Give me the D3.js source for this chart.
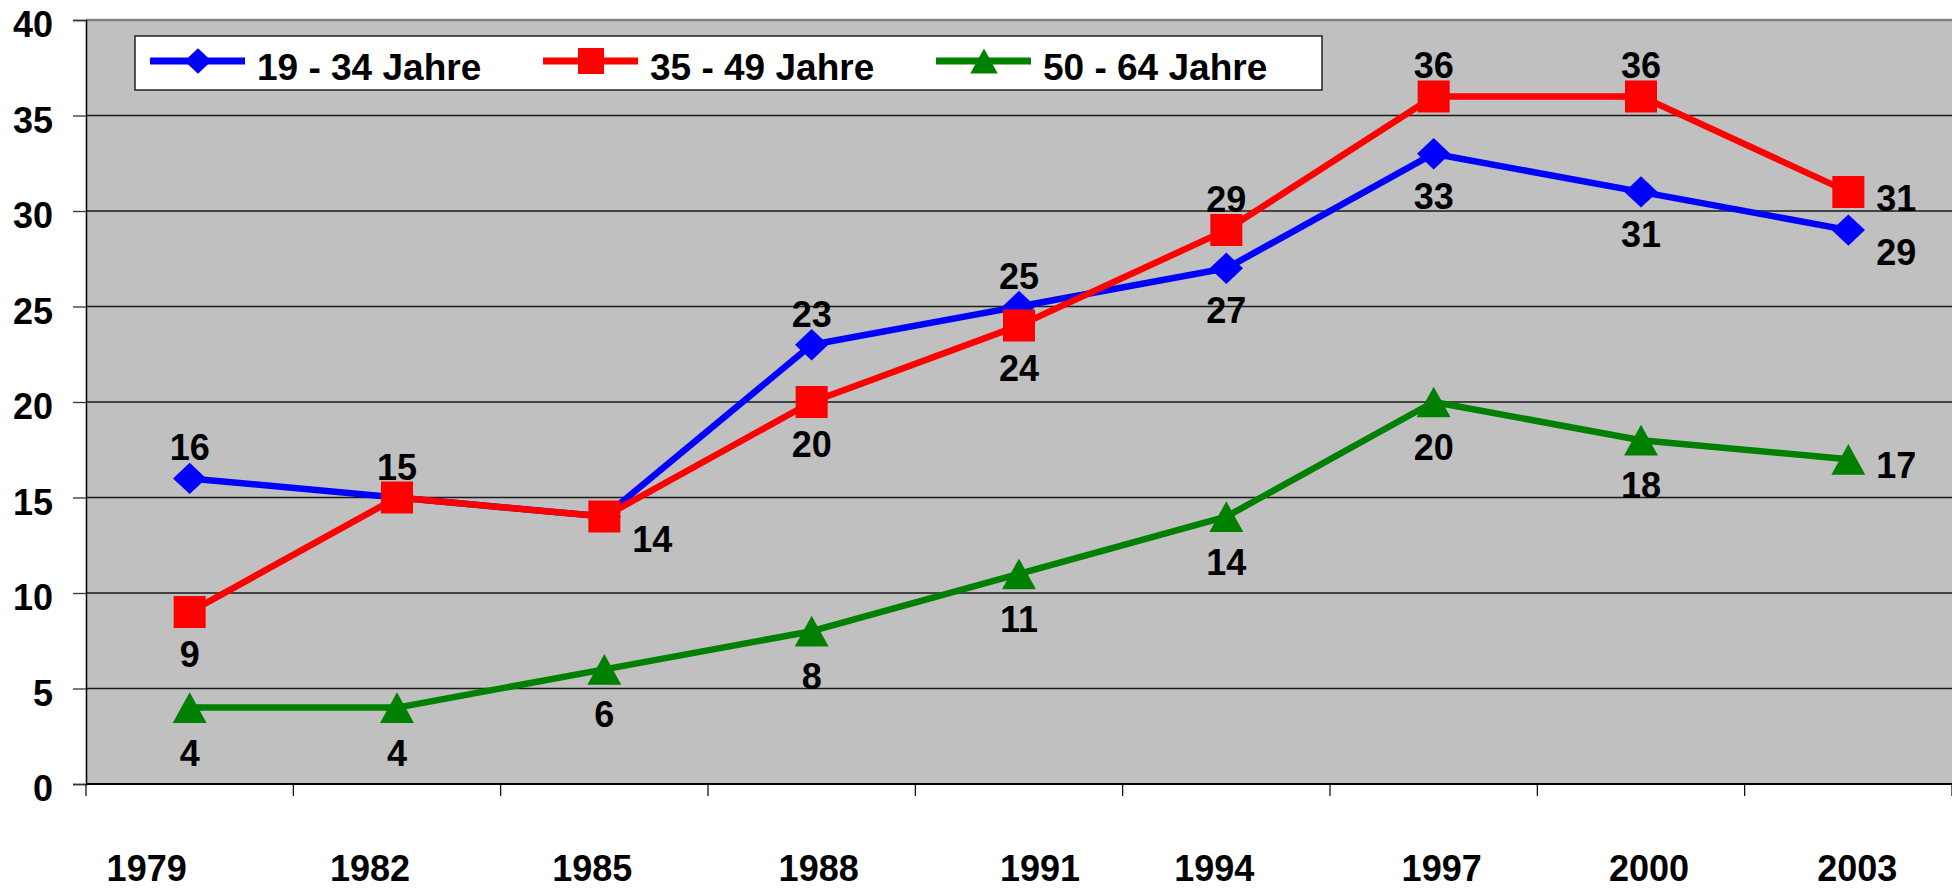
<!DOCTYPE html>
<html>
<head>
<meta charset="utf-8">
<title>Altersgruppen 1979 - 2003</title>
<script src="https://d3js.org/d3.v7.min.js"></script>
<style>
  body { margin: 0; background: #ffffff; }
  svg text { font-family: "Liberation Sans", Arial, sans-serif; font-weight: bold; fill: #000; }
</style>
</head>
<body>
<div id="chart"></div>
<script>
// data
var years = ["1979", "1982", "1985", "1988", "1991", "1994", "1997", "2000", "2003"];
var seriesNames = ["19 - 34 Jahre", "35 - 49 Jahre", "50 - 64 Jahre"];
var young = [16, 15, 14, 23, 25, 27, 33, 31, 29];
var middle = [9, 15, 14, 20, 24, 29, 36, 36, 31];
var older = [4, 4, 6, 8, 11, 14, 20, 18, 17];
var yTicks = [0, 5, 10, 15, 20, 25, 30, 35, 40];

// where each value label sits: a = above, b = below, r = right, rb = right and lower, "" = none
var youngLabelPos = ["a", "a", "", "a", "a", "b", "b", "b", "rb"];
var middleLabelPos = ["b", "", "rb", "b", "b", "a", "a", "a", "r"];
var olderLabelPos = ["b", "b", "b", "b", "b", "b", "b", "b", "r"];

// year labels in the original are not exactly centred
var yearLabelNudge = [-43, -27, -12, 7, 21, -12, 8, 8, 9];

var width = 1952, height = 889;
// note: "top" is taken by window.top, so use other names
var plotLeft = 86, plotRight = 1952, plotTop = 20, plotBottom = 784;

var svg = d3.select("#chart").append("svg")
    .attr("width", width)
    .attr("height", height);

var x = d3.scaleBand().domain(years).range([plotLeft, plotRight]);
var y = d3.scaleLinear().domain([0, 40]).range([plotBottom, plotTop]);
var cx = function(d, i) { return x(years[i]) + x.bandwidth() / 2; };

// plot background
svg.append("rect")
    .attr("x", plotLeft).attr("y", plotTop)
    .attr("width", plotRight - plotLeft).attr("height", plotBottom - plotTop)
    .attr("fill", "#c0c0c0");

// gridlines
svg.append("g").selectAll("line")
    .data(yTicks.filter(function(t) { return t > 0 && t < 40; }))
    .enter().append("line")
    .attr("x1", plotLeft).attr("x2", plotRight)
    .attr("y1", function(d) { return y(d); })
    .attr("y2", function(d) { return y(d); })
    .attr("stroke", "#1a1a1a")
    .attr("stroke-width", 1.3);

// frame top
svg.append("line")
    .attr("x1", plotLeft).attr("x2", plotRight)
    .attr("y1", plotTop).attr("y2", plotTop)
    .attr("stroke", "#808080").attr("stroke-width", 2.5);

// y axis
var yAxis = d3.axisLeft(y).tickValues(yTicks).tickSize(13).tickPadding(20);
var gy = svg.append("g")
    .attr("transform", "translate(" + plotLeft + ",0)")
    .call(yAxis);
gy.select(".domain").attr("stroke", "#000").attr("stroke-width", 1.5);
gy.selectAll(".tick line").attr("stroke", "#333").attr("stroke-width", 1.3);
gy.selectAll("text")
    .attr("dy", "0.46em")
    .style("font-size", "36px");

// x axis line and ticks between the years
svg.append("line")
    .attr("x1", plotLeft).attr("x2", plotRight)
    .attr("y1", plotBottom).attr("y2", plotBottom)
    .attr("stroke", "#000").attr("stroke-width", 2);

svg.append("g").selectAll("line")
    .data(years.concat(["end"]))
    .enter().append("line")
    .attr("x1", function(d, i) { return plotLeft + i * x.bandwidth(); })
    .attr("x2", function(d, i) { return plotLeft + i * x.bandwidth(); })
    .attr("y1", plotBottom).attr("y2", plotBottom + 12)
    .attr("stroke", "#000").attr("stroke-width", 1.2);

svg.append("g").selectAll("text")
    .data(years)
    .enter().append("text")
    .attr("x", function(d, i) { return cx(d, i) + yearLabelNudge[i]; })
    .attr("y", 881)
    .attr("text-anchor", "middle")
    .style("font-size", "36px")
    .text(function(d) { return d; });

// marker shapes
function diamond(s) {
    var w = s * 0.52, h = s * 0.49;
    return "M0," + (-h) + "L" + w + ",0L0," + h + "L" + (-w) + ",0Z";
}
function square(s) {
    var h = s / 2;
    return "M" + (-h) + "," + (-h) + "H" + h + "V" + h + "H" + (-h) + "Z";
}
function triangle(s) {
    var w = s * 0.53, h = s * 0.48;
    return "M0," + (-h) + "L" + w + "," + h + "L" + (-w) + "," + h + "Z";
}

var series = [
    { name: seriesNames[0], values: young, pos: youngLabelPos, color: "#0000ff", shape: diamond, below: 55 },
    { name: seriesNames[1], values: middle, pos: middleLabelPos, color: "#ff0000", shape: square, below: 55 },
    { name: seriesNames[2], values: older, pos: olderLabelPos, color: "#008000", shape: triangle, below: 58 }
];

var line = d3.line()
    .x(function(d, i) { return cx(d, i); })
    .y(function(d) { return y(d); });

series.forEach(function(s) {
    var g = svg.append("g");
    g.append("path")
        .datum(s.values)
        .attr("d", line)
        .attr("fill", "none")
        .attr("stroke", s.color)
        .attr("stroke-width", 6.5)
        .attr("stroke-linejoin", "round");

    g.selectAll("path.marker")
        .data(s.values)
        .enter().append("path")
        .attr("class", "marker")
        .attr("d", s.shape(32))
        .attr("transform", function(d, i) { return "translate(" + cx(d, i) + "," + y(d) + ")"; })
        .attr("fill", s.color);
});

// value labels on top of all lines
series.forEach(function(s) {
    var pts = s.values.map(function(v, i) { return { v: v, i: i, p: s.pos[i] }; })
        .filter(function(d) { return d.p !== ""; });
    svg.append("g").selectAll("text")
        .data(pts)
        .enter().append("text")
        .attr("x", function(d) {
            return d.p.charAt(0) === "r" ? cx(d.v, d.i) + 28 : cx(d.v, d.i);
        })
        .attr("y", function(d) {
            if (d.p === "a") return y(d.v) - 18;
            if (d.p === "b") return y(d.v) + s.below;
            if (d.p === "r") return y(d.v) + 19;
            return y(d.v) + 35;
        })
        .attr("text-anchor", function(d) { return d.p.charAt(0) === "r" ? "start" : "middle"; })
        .style("font-size", "36px")
        .text(function(d) { return d.v; });
});

// legend
var legend = svg.append("g");
legend.append("rect")
    .attr("x", 135).attr("y", 36)
    .attr("width", 1187).attr("height", 54)
    .attr("fill", "#fff")
    .attr("stroke", "#222").attr("stroke-width", 1.5);

var items = legend.selectAll("g.item")
    .data(series)
    .enter().append("g")
    .attr("class", "item")
    .attr("transform", function(d, i) { return "translate(" + (150 + i * 393) + ",61)"; });

items.append("line")
    .attr("x1", 0).attr("x2", 95)
    .attr("y1", 0).attr("y2", 0)
    .attr("stroke", function(d) { return d.color; })
    .attr("stroke-width", 7);

items.append("path")
    .attr("d", function(d) { return d.shape(26); })
    .attr("transform", "translate(48,0)")
    .attr("fill", function(d) { return d.color; });

items.append("text")
    .attr("x", 107).attr("y", 19)
    .style("font-size", "37px")
    .text(function(d) { return d.name; });
</script>
</body>
</html>
